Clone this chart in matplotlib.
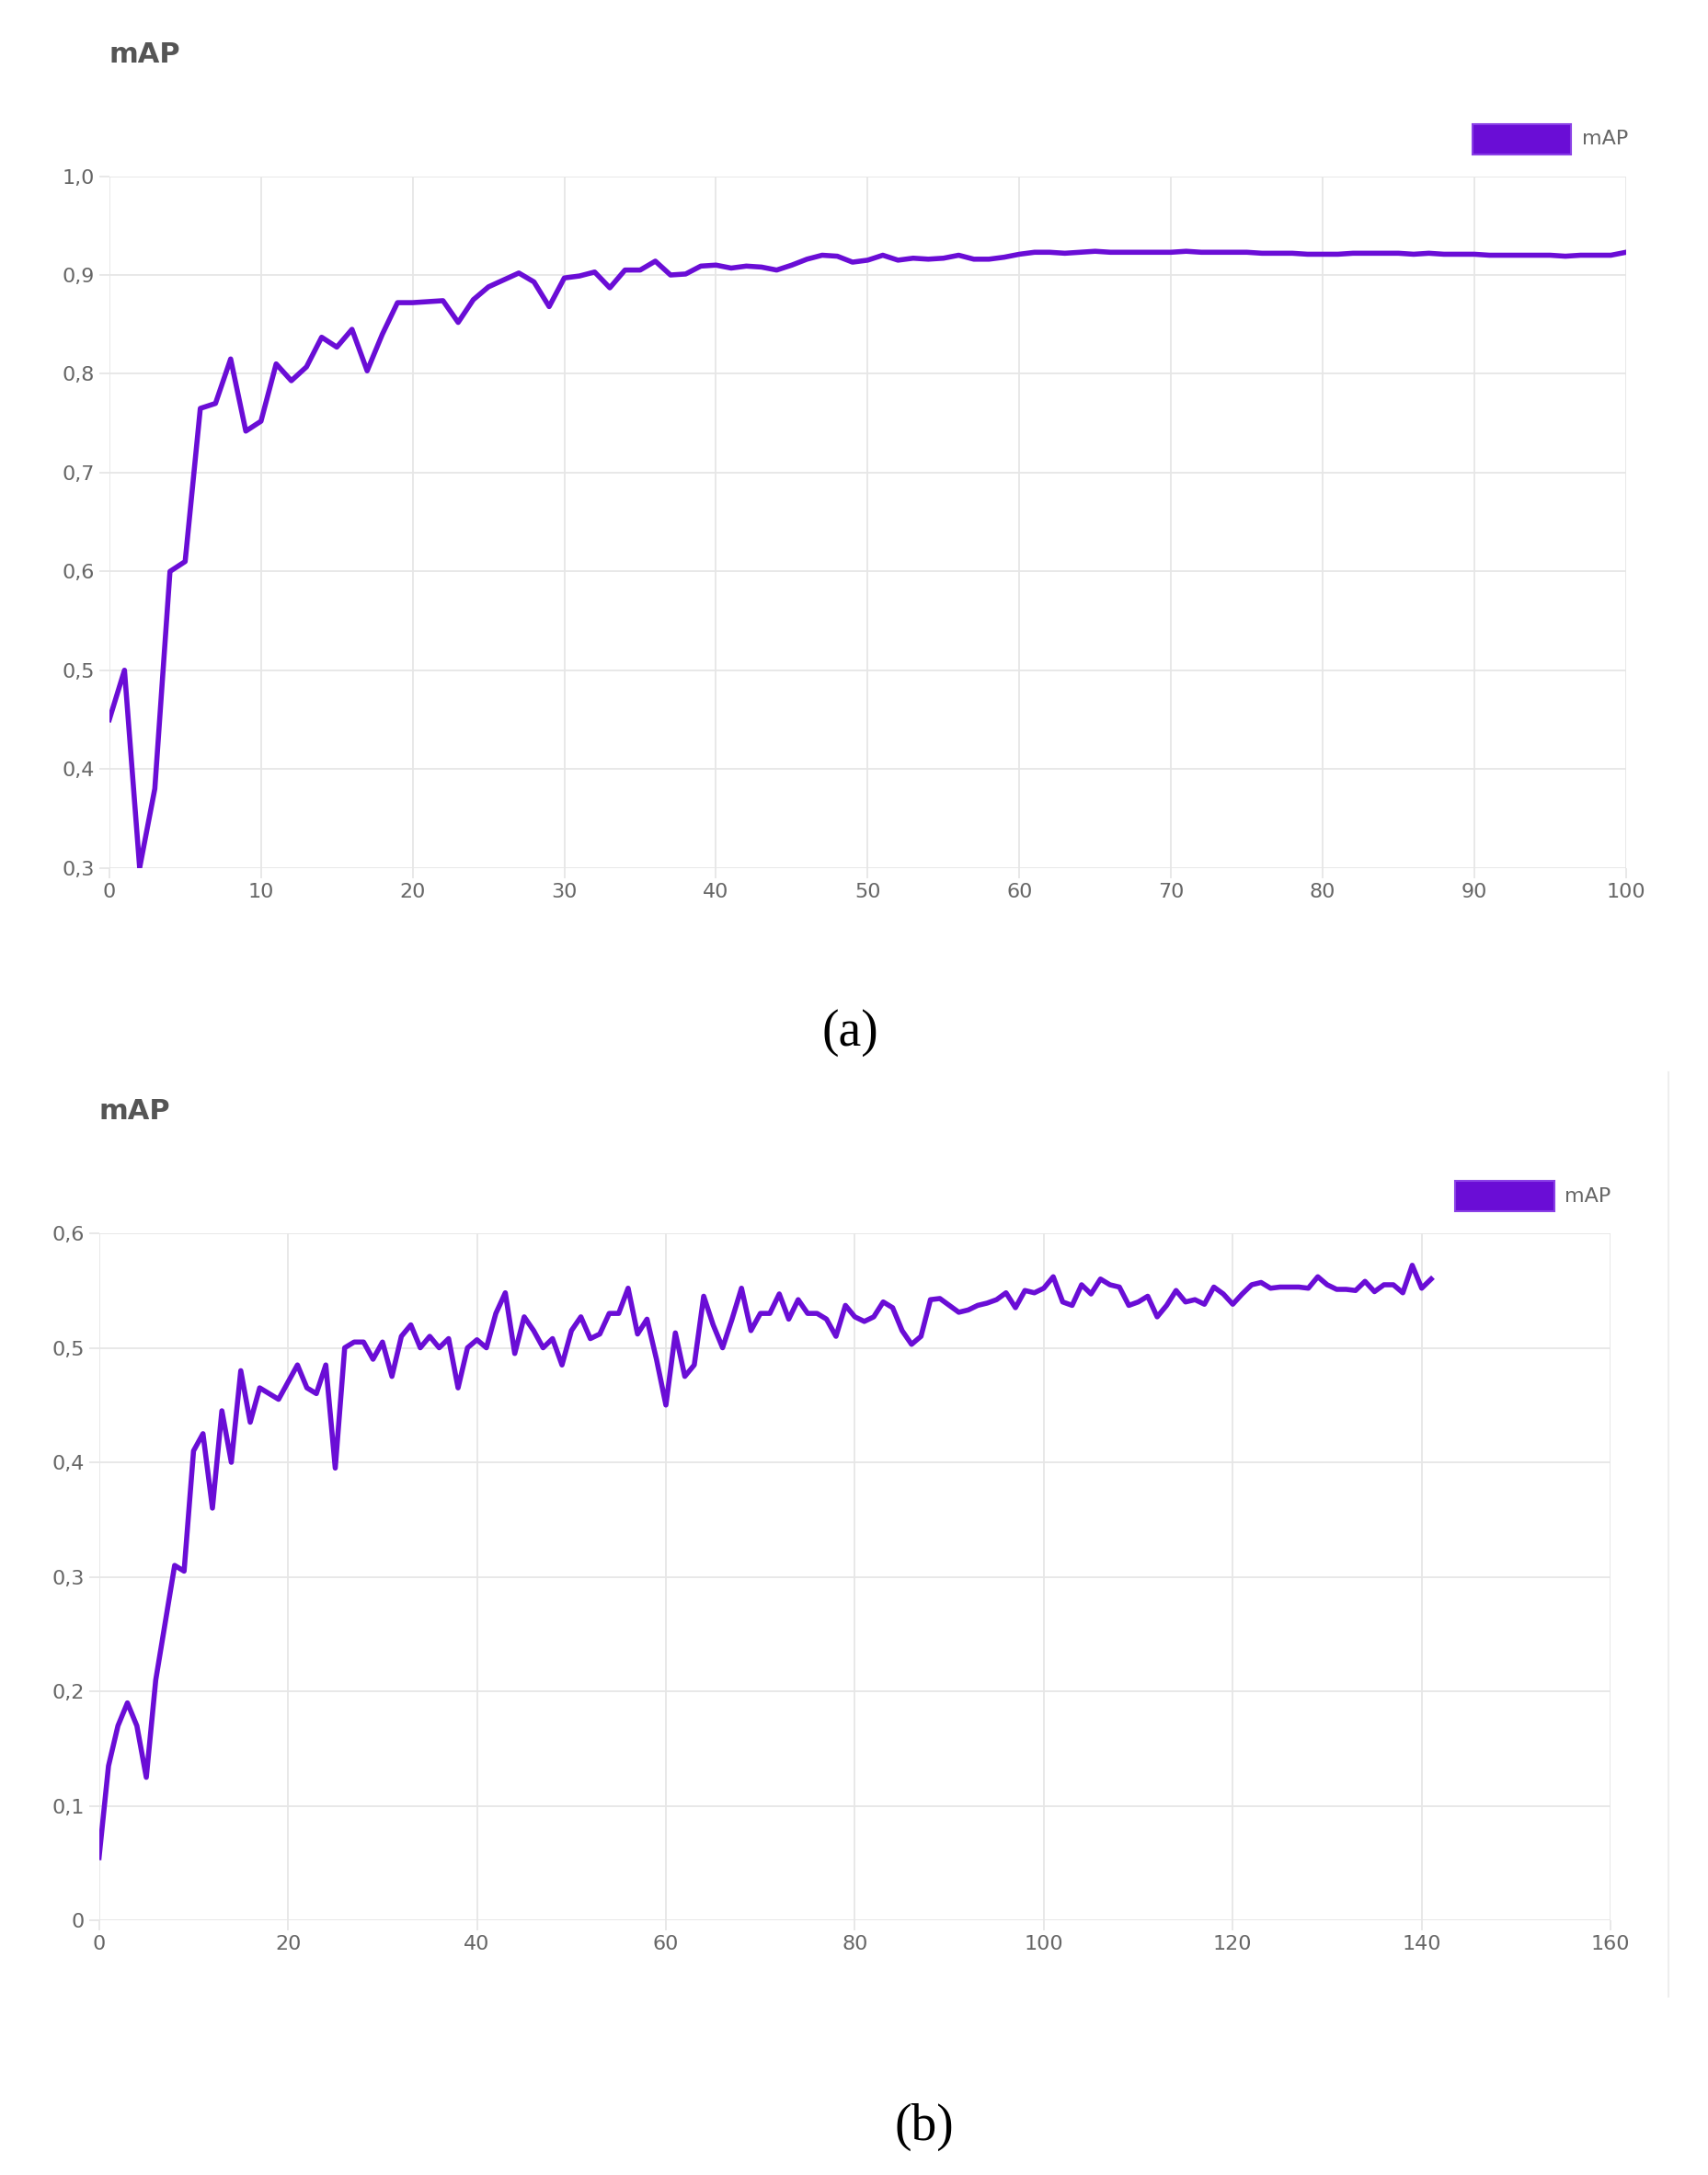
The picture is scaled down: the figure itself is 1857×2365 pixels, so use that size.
import matplotlib
matplotlib.use("Agg")
import matplotlib.pyplot as plt
from matplotlib.ticker import FuncFormatter
from matplotlib.patches import Rectangle

LINE = "#6a0dd6"
GRID = "#e6e6e6"
TICK = "#666666"

# panel (a): epochs 0..100
map_a = [0.45, 0.50, 0.30, 0.38, 0.60, 0.61, 0.765, 0.77, 0.815, 0.742,
         0.752, 0.81, 0.793, 0.807, 0.837, 0.827, 0.845, 0.803, 0.84, 0.872,
         0.872, 0.873, 0.874, 0.852, 0.875, 0.888, 0.895, 0.902, 0.893, 0.868,
         0.897, 0.899, 0.903, 0.887, 0.905, 0.905, 0.914, 0.900, 0.901, 0.909,
         0.910, 0.907, 0.909, 0.908, 0.905, 0.910, 0.916, 0.920, 0.919, 0.913,
         0.915, 0.920, 0.915, 0.917, 0.916, 0.917, 0.920, 0.916, 0.916, 0.918,
         0.921, 0.923, 0.923, 0.922, 0.923, 0.924, 0.923, 0.923, 0.923, 0.923,
         0.923, 0.924, 0.923, 0.923, 0.923, 0.923, 0.922, 0.922, 0.922, 0.921,
         0.921, 0.921, 0.922, 0.922, 0.922, 0.922, 0.921, 0.922, 0.921, 0.921,
         0.921, 0.920, 0.920, 0.920, 0.920, 0.920, 0.919, 0.920, 0.920, 0.920,
         0.923]

# panel (b): epochs 0..141
map_b = [0.055, 0.135, 0.17, 0.19, 0.17, 0.125, 0.21, 0.26, 0.31, 0.305,
         0.41, 0.425, 0.36, 0.445, 0.40, 0.48, 0.435, 0.465, 0.46, 0.455,
         0.47, 0.485, 0.465, 0.46, 0.485, 0.395, 0.50, 0.505, 0.505, 0.49,
         0.505, 0.475, 0.51, 0.52, 0.50, 0.51, 0.50, 0.508, 0.465, 0.50,
         0.507, 0.50, 0.53, 0.548, 0.495, 0.527, 0.515, 0.50, 0.508, 0.485,
         0.515, 0.527, 0.508, 0.512, 0.53, 0.53, 0.552, 0.512, 0.525, 0.49,
         0.45, 0.513, 0.475, 0.485, 0.545, 0.52, 0.50, 0.525, 0.552, 0.515,
         0.53, 0.53, 0.547, 0.525, 0.542, 0.53, 0.53, 0.525, 0.51, 0.537,
         0.527, 0.523, 0.527, 0.54, 0.535, 0.515, 0.503, 0.51, 0.542, 0.543,
         0.537, 0.531, 0.533, 0.537, 0.539, 0.542, 0.548, 0.535, 0.55, 0.548,
         0.552, 0.562, 0.54, 0.537, 0.555, 0.547, 0.56, 0.555, 0.553, 0.537,
         0.54, 0.545, 0.527, 0.537, 0.55, 0.54, 0.542, 0.538, 0.553, 0.547,
         0.538, 0.547, 0.555, 0.557, 0.552, 0.553, 0.553, 0.553, 0.552, 0.562,
         0.555, 0.551, 0.551, 0.55, 0.558, 0.549, 0.555, 0.555, 0.548, 0.572,
         0.552, 0.56]

comma = FuncFormatter(lambda v, _: ("%.1f" % v).replace(".", ",") if v != 0 else "0")


def style(ax, xmax, xstep, ymin, ymax, ystep):
    ax.set_xlim(0, xmax)
    ax.set_ylim(ymin, ymax)
    ax.set_xticks(range(0, xmax + 1, xstep))
    n = int(round((ymax - ymin) / ystep))
    ax.set_yticks([ymin + i * ystep for i in range(n + 1)])
    ax.yaxis.set_major_formatter(comma)
    ax.grid(True, color=GRID, linewidth=1.3)
    ax.set_axisbelow(True)
    for s in ax.spines.values():
        s.set_visible(False)
    ax.tick_params(colors=TICK, labelcolor=TICK, labelsize=16, length=8,
                   width=1.3, color=GRID)


def legend_box(fig, x, y):
    fig.patches.append(Rectangle((x, y), 0.058, 0.014, transform=fig.transFigure,
                                 facecolor=LINE, edgecolor="#8a40e6", lw=1.5))
    fig.text(x + 0.064, y + 0.007, "mAP", color=TICK, fontsize=16, va="center")


fig = plt.figure(figsize=(18.57, 23.65), dpi=100)

ax1 = fig.add_axes([0.064, 0.601, 0.888, 0.318])
ax1.plot(range(len(map_a)), map_a, color=LINE, linewidth=4)
style(ax1, 100, 10, 0.3, 1.0, 0.1)
fig.text(0.064, 0.975, "mAP", fontsize=22, fontweight="bold", color="#555555", va="center")
legend_box(fig, 0.862, 0.929)
fig.text(0.498, 0.525, "(a)", fontsize=40, family="Liberation Serif", ha="center", va="center")

ax2 = fig.add_axes([0.058, 0.117, 0.885, 0.316])
ax2.plot(range(len(map_b)), map_b, color=LINE, linewidth=4)
style(ax2, 160, 20, 0.0, 0.6, 0.1)
fig.text(0.058, 0.489, "mAP", fontsize=22, fontweight="bold", color="#555555", va="center")
legend_box(fig, 0.852, 0.443)
fig.text(0.541, 0.022, "(b)", fontsize=40, family="Liberation Serif", ha="center", va="center")

fig.add_artist(plt.Line2D([0.977, 0.977], [0.082, 0.507], transform=fig.transFigure,
                          color="#eeeeee", linewidth=1.5))

fig.savefig("out.png", dpi=100, facecolor="white")
